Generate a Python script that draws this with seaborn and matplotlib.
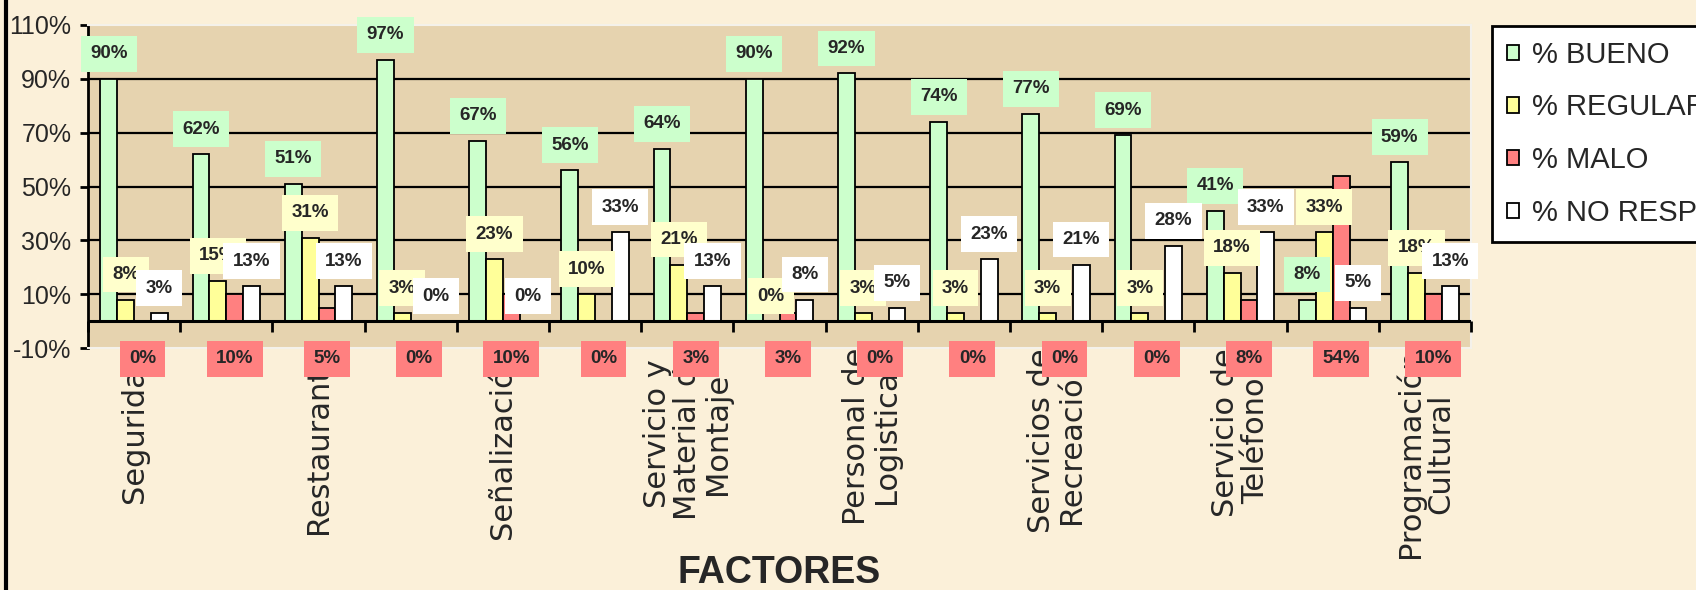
import numpy as np
import pandas as pd
import matplotlib
matplotlib.use("Agg")
import matplotlib.pyplot as plt
from matplotlib.patches import Patch
from matplotlib.lines import Line2D
import seaborn as sns

# datos
etiquetas = ["Seguridad", "", "Restaurante", "", "Señalización", "",
             "Servicio y\nMaterial de\nMontaje", "", "Personal de\nLogistica", "",
             "Servicios de\nRecreación", "", "Servicio de\nTeléfonos", "",
             "Programación\nCultural"]
series = ["% BUENO", "% REGULAR", "% MALO", "% NO RESP"]
bueno = [90, 62, 51, 97, 67, 56, 64, 90, 92, 74, 77, 69, 41, 8, 59]
regular = [8, 15, 31, 3, 23, 10, 21, 0, 3, 3, 3, 3, 18, 33, 18]
malo = [0, 10, 5, 0, 10, 0, 3, 3, 0, 0, 0, 0, 8, 54, 10]
no_resp = [3, 13, 13, 0, 0, 33, 13, 8, 5, 23, 21, 28, 33, 5, 13]
yticks = [-10, 10, 30, 50, 70, 90, 110]

colores = ["#CCFFCC", "#FFFF99", "#FF8080", "#FFFFFF"]
cajas = ["#CCFFCC", "#FFFFCC", "#FF8080", "#FFFFFF"]

grupos = list(range(len(etiquetas)))
df = pd.DataFrame({
    "grupo": grupos * 4,
    "serie": np.repeat(series, len(grupos)),
    "valor": bueno + regular + malo + no_resp,
})

sns.set_style("white")
plt.rcParams["font.family"] = ["Liberation Sans", "DejaVu Sans"]

fondo = "#FBF0D9"
fig = plt.figure(figsize=(16.96, 5.90), dpi=100, facecolor=fondo)
ax = fig.add_axes([88 / 1696, 1 - 348 / 590, (1471 - 88) / 1696, (348 - 25) / 590])
ax.set_facecolor("#E6D3AF")

# lineas de division horizontales
for y in yticks[1:-1]:
    ax.axhline(y, color="black", lw=1.6, zorder=0.8)
ax.axhline(0, color="black", lw=2.2, zorder=3)

sns.barplot(data=df, x="grupo", y="valor", hue="serie", hue_order=series,
            palette=colores, width=0.73, edgecolor="black", linewidth=1.3,
            saturation=1, legend=False, ax=ax, zorder=2)

ax.set_xlim(-0.5, len(grupos) - 0.5)
ax.set_ylim(-10, 110)

# marcas del eje de categorias
ax.vlines(np.arange(-0.5, len(grupos)), -4, 0, color="black", lw=2, zorder=3, clip_on=False)

# etiquetas de datos
for i, cont in enumerate(ax.containers):
    for bar in cont:
        v = bar.get_height()
        xc = bar.get_x() + bar.get_width() / 2
        if series[i] == "% MALO":
            pos, off = (xc, -14), (0, 0)
        else:
            pos, off = (xc, v), (0, 18)
        ax.annotate(f"{v:.0f}%", pos, xytext=off, textcoords="offset points",
                    ha="center", va="center", fontsize=13.5, fontweight="bold",
                    annotation_clip=False, zorder=5,
                    bbox=dict(boxstyle="square,pad=0.5", fc=cajas[i], ec="none"))

ax.set_yticks(yticks)
ax.set_yticklabels([f"{t}%" for t in yticks], fontsize=18)
ax.tick_params(axis="y", length=6, width=2, pad=6, left=True, color="black")
ax.set_xticks(grupos)
ax.set_xticklabels(etiquetas, rotation=90, va="top", ha="center", multialignment="center",
                   fontsize=22, family="DejaVu Sans", linespacing=1.05)
ax.tick_params(axis="x", length=0, pad=0)
ax.set_xlabel("")
ax.set_ylabel("")

for lado in ["top", "right", "bottom"]:
    ax.spines[lado].set_color("#F4F1EA")
    ax.spines[lado].set_linewidth(1.5)
ax.spines["left"].set_color("black")
ax.spines["left"].set_linewidth(2)

fig.text(779 / 1696, 1 - 573 / 590, "FACTORES", ha="center", va="center",
         fontsize=27, fontweight="bold", family=["Liberation Sans Narrow", "Liberation Sans"])

# leyenda
handles = [Patch(facecolor=c, edgecolor="black", linewidth=1.3) for c in colores]
leg = fig.legend(handles, series, loc="upper left", bbox_to_anchor=(1492 / 1696, 1 - 26 / 590),
                 borderaxespad=0, fontsize=21, frameon=True, fancybox=False, borderpad=0.5,
                 handlelength=0.42, handleheight=0.42, handletextpad=0.45, labelspacing=0.85)
leg.get_frame().set_edgecolor("black")
leg.get_frame().set_linewidth(2)
leg.get_frame().set_facecolor("white")
leg.get_frame().set_alpha(1)

# borde izquierdo de la diapositiva
fig.add_artist(Line2D([6 / 1696, 6 / 1696], [0, 1], color="black", lw=3))

fig.savefig("out.png", dpi=100, facecolor=fondo)
